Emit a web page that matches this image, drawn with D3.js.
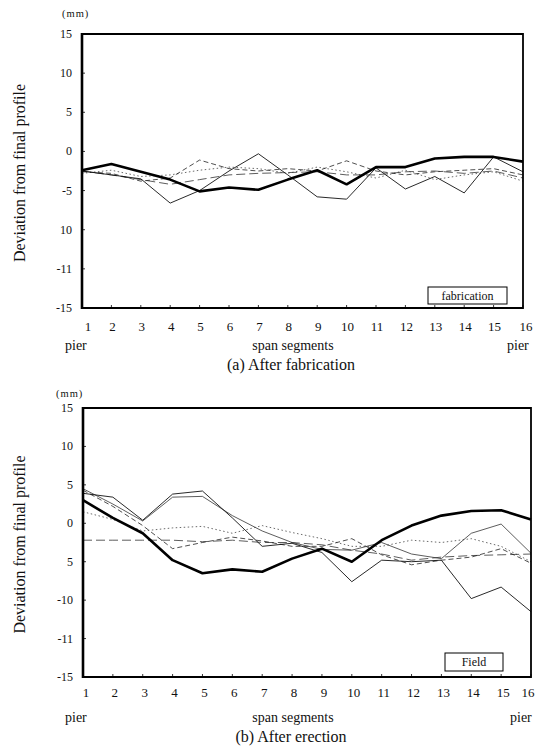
<!DOCTYPE html>
<html><head><meta charset="utf-8">
<script src="https://cdn.jsdelivr.net/npm/d3@7"></script>
<style>body{margin:0;background:#fff}svg{display:block}</style>
</head><body><svg id="c" width="536" height="746" font-family="'Liberation Serif', 'DejaVu Serif', 'Times New Roman', serif"></svg>
<script>
const segments = d3.range(1, 17);
const yTicks = [15, 10, 5, 0, -5, -10, -15, -20];
const yLabelsA = ["15", "10", "5", "0", "-5", "10", "-11", "-15"];
const yLabelsB = ["15", "10", "5", "0", "5", "-10", "-11", "-15"];

// (a) After fabrication
const fabThick  = [-2.4, -1.6, -2.6, -3.6, -5.1, -4.6, -4.9, -3.6, -2.4, -4.2, -2.0, -2.0, -0.9, -0.7, -0.7, -1.3];
const fabThin   = [-2.5, -3.0, -3.5, -6.6, -5.0, -2.5, -0.3, -3.0, -5.8, -6.1, -2.1, -4.8, -3.2, -5.3, -0.7, -2.6];
const fabDash   = [-2.6, -2.8, -3.8, -3.4, -1.1, -2.2, -2.5, -2.2, -2.5, -1.2, -2.5, -3.0, -2.6, -2.4, -2.2, -3.0];
const fabLong   = [-2.5, -3.0, -3.6, -4.2, -3.6, -3.0, -2.8, -2.7, -2.6, -3.0, -3.0, -2.6, -2.5, -2.8, -2.5, -3.4];
const fabDot    = [-2.8, -2.4, -3.2, -3.0, -2.4, -2.0, -2.2, -2.8, -2.0, -2.6, -3.4, -2.4, -3.6, -3.0, -2.6, -3.8];

// (b) After erection
const fldThick  = [3.0, 0.7, -1.3, -4.8, -6.5, -6.0, -6.3, -4.6, -3.3, -5.0, -2.2, -0.3, 1.0, 1.6, 1.7, 0.5];
const fldThin   = [3.9, 3.4, 0.4, 3.8, 4.2, 0.7, -3.0, -2.6, -3.8, -7.6, -4.8, -5.0, -4.8, -9.8, -8.3, -11.5];
const fldThin2  = [4.5, 2.5, 0.3, 3.4, 3.5, 1.0, -1.0, -2.5, -3.4, -3.5, -2.5, -4.0, -4.6, -1.3, -0.1, -3.9];
const fldDash   = [4.3, 2.2, -0.3, -3.3, -2.5, -1.8, -2.3, -3.0, -3.0, -2.0, -4.1, -5.4, -4.8, -4.4, -3.3, -5.2];
const fldLong   = [-2.2, -2.2, -2.2, -2.2, -2.4, -2.2, -2.5, -2.5, -2.8, -3.5, -4.0, -4.8, -4.4, -4.2, -4.1, -4.0];
const fldDot    = [1.5, 0.5, -1.0, -0.6, -0.4, -1.3, -0.3, -1.2, -2.0, -3.0, -3.0, -2.2, -2.5, -2.0, -3.0, -5.0];

const styles = {
  thick: {w: 2.6, dash: null, c: "#000"},
  thin:  {w: 0.9, dash: null, c: "#111"},
  thin2: {w: 0.8, dash: null, c: "#333"},
  dash:  {w: 0.8, dash: "5,3", c: "#222"},
  long:  {w: 0.8, dash: "9,4", c: "#333"},
  dot:   {w: 0.8, dash: "1.5,2.5", c: "#444"}
};

const svg = d3.select("#c");

function panel(cfg) {
  const x = d3.scaleLinear().domain([1, 16]).range([cfg.left, cfg.right]);
  const y = d3.scaleLinear().domain([-20, 15]).range([cfg.bottom, cfg.top]);
  const g = svg.append("g").attr("fill", "#111");
  const line = d3.line().x((d, i) => x(segments[i])).y(d => y(d));

  cfg.series.forEach(s => {
    const st = styles[s.style];
    g.append("path").attr("d", line(s.values)).attr("fill", "none")
      .attr("stroke", st.c).attr("stroke-width", st.w)
      .attr("stroke-dasharray", st.dash).attr("stroke-linejoin", "round");
  });

  // frame
  g.append("line").attr("x1", cfg.left).attr("x2", cfg.right).attr("y1", cfg.top).attr("y2", cfg.top).attr("stroke", "#000").attr("stroke-width", 2);
  g.append("line").attr("x1", cfg.left).attr("x2", cfg.right).attr("y1", cfg.bottom).attr("y2", cfg.bottom).attr("stroke", "#000").attr("stroke-width", 1.8);
  g.append("line").attr("x1", cfg.left).attr("x2", cfg.left).attr("y1", cfg.top - 1).attr("y2", cfg.bottom + 1).attr("stroke", "#000").attr("stroke-width", 2.6);
  g.append("line").attr("x1", cfg.right).attr("x2", cfg.right).attr("y1", cfg.top - 1).attr("y2", cfg.bottom + 1).attr("stroke", "#000").attr("stroke-width", 1.8);

  // y ticks
  yTicks.forEach((t, i) => {
    g.append("text").attr("x", cfg.left - 10).attr("y", y(t) + 4)
      .attr("text-anchor", "end").attr("font-size", 12).text(cfg.yLabels[i]);
    g.append("line").attr("x1", cfg.left).attr("x2", cfg.left + 3).attr("y1", y(t)).attr("y2", y(t)).attr("stroke", "#000").attr("stroke-width", 0.8);
  });
  // x ticks
  segments.forEach((s, i) => {
    g.append("line").attr("x1", x(s)).attr("x2", x(s)).attr("y1", cfg.bottom).attr("y2", cfg.bottom - 3).attr("stroke", "#000").attr("stroke-width", 0.8);
    g.append("text").attr("x", x(s) + cfg.xShift(i)).attr("y", cfg.xLabelY)
      .attr("text-anchor", "middle").attr("font-size", 13).text(s);
  });

  g.append("text").attr("x", cfg.mmX).attr("y", cfg.mmY).attr("font-size", 10.5).attr("letter-spacing", 1).text("(mm)");
  g.append("text").attr("transform", `translate(${cfg.titleX},${(cfg.top + cfg.bottom) / 2 + 2}) rotate(-90)`)
    .attr("text-anchor", "middle").attr("font-size", 16).text("Deviation from final profile");

  g.append("text").attr("x", 65).attr("y", cfg.pierY).attr("font-size", 14).text("pier");
  g.append("text").attr("x", cfg.pierRX).attr("y", cfg.pierY).attr("font-size", 14).text("pier");
  g.append("text").attr("x", 293).attr("y", cfg.pierY).attr("text-anchor", "middle").attr("font-size", 14).text("span segments");
  g.append("text").attr("x", 291).attr("y", cfg.capY).attr("text-anchor", "middle").attr("font-size", 16).text(cfg.caption);

  g.append("rect").attr("x", cfg.box[0]).attr("y", cfg.box[1]).attr("width", cfg.box[2]).attr("height", cfg.box[3])
    .attr("fill", "#fff").attr("stroke", "#000").attr("stroke-width", 1);
  g.append("text").attr("x", cfg.box[0] + cfg.box[2] / 2).attr("y", cfg.box[1] + cfg.box[3] / 2 + 4)
    .attr("text-anchor", "middle").attr("font-size", 12).text(cfg.boxLabel);
}

panel({
  left: 82, right: 523, top: 34, bottom: 308,
  yLabels: yLabelsA,
  xLabelY: 331, xShift: i => i === 0 ? 6 : (i === 15 ? 3 : 1),
  mmX: 62, mmY: 17, titleX: 25,
  pierY: 350, pierRX: 507, capY: 370, caption: "(a) After fabrication",
  box: [428, 287, 79, 17], boxLabel: "fabrication",
  series: [
    {values: fabDot, style: "dot"},
    {values: fabLong, style: "long"},
    {values: fabDash, style: "dash"},
    {values: fabThin, style: "thin"},
    {values: fabThick, style: "thick"}
  ]
});

panel({
  left: 83, right: 531, top: 408, bottom: 677,
  yLabels: yLabelsB,
  xLabelY: 697, xShift: i => i === 0 ? 3 : (i === 15 ? -3 : 2),
  mmX: 56, mmY: 397, titleX: 25,
  pierY: 722, pierRX: 510, capY: 742, caption: "(b) After erection",
  box: [445, 653, 58, 18], boxLabel: "Field",
  series: [
    {values: fldDot, style: "dot"},
    {values: fldLong, style: "long"},
    {values: fldDash, style: "dash"},
    {values: fldThin2, style: "thin2"},
    {values: fldThin, style: "thin"},
    {values: fldThick, style: "thick"}
  ]
});
</script></body></html>
